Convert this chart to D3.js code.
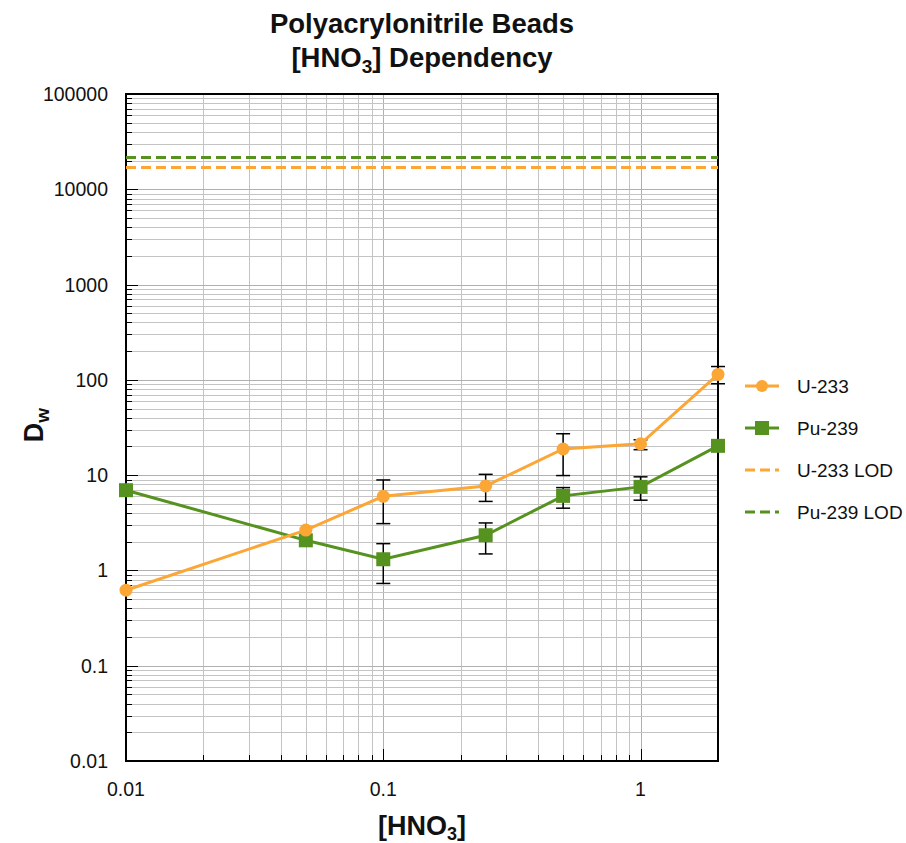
<!DOCTYPE html>
<html>
<head>
<meta charset="utf-8">
<script src="https://cdn.jsdelivr.net/npm/d3@7"></script>
<style>
  html, body { margin: 0; padding: 0; background: #fff; }
  svg { display: block; font-family: "Liberation Sans", Arial, Helvetica, sans-serif; }
</style>
</head>
<body>
<svg id="chart" width="906" height="843"></svg>
<script>
// HNO3 concentrations (M)
const hno3 = [0.01, 0.05, 0.1, 0.25, 0.5, 1, 2];

// Weight distribution ratios with error ranges
const u233 = [0.62, 2.65, 6.0, 7.7, 18.8, 21.3, 114];
const u233Low = [null, null, 3.1, 5.3, 9.9, 18.5, 91];
const u233High = [null, null, 8.9, 10.2, 27.2, 23.5, 138];

const pu239 = [6.95, 2.07, 1.31, 2.34, 6.06, 7.53, 20.3];
const pu239Low = [null, null, 0.73, 1.49, 4.5, 5.46, null];
const pu239High = [null, null, 1.91, 3.15, 7.4, 9.6, null];

// Limits of detection
const u233LOD = 16900;
const pu239LOD = 21600;

const xTickLabels = ["0.01", "0.1", "1"];
const yTickLabels = ["0.01", "0.1", "1", "10", "100", "1000", "10000", "100000"];

const ORANGE = "#fca636";
const GREEN = "#56921f";
const INK = "#111";

const svg = d3.select("#chart");
const plotL = 126, plotR = 718, plotT = 94, plotB = 761;

const x = d3.scaleLog().domain([0.01, 2]).range([plotL, plotR]);
const y = d3.scaleLog().domain([0.01, 100000]).range([plotB, plotT]);

// Minor/major tick values
const xTicks = [];
for (let e = -2; e <= 0; e++) {
  for (let k = 1; k <= 9; k++) {
    const v = +(k * Math.pow(10, e)).toPrecision(3);
    if (v <= 2) xTicks.push(v);
  }
}
const yTicks = [];
for (let e = -2; e < 5; e++) {
  for (let k = 1; k <= 9; k++) yTicks.push(+(k * Math.pow(10, e)).toPrecision(3));
}
yTicks.push(100000);
const isMajor = v => Math.abs(Math.log10(v) - Math.round(Math.log10(v))) < 1e-9;

// Grid
const grid = svg.append("g").attr("shape-rendering", "crispEdges");
grid.selectAll("line.gx").data(xTicks.filter(v => v > 0.01 && v < 2)).join("line")
  .attr("x1", d => Math.round(x(d)) + 0.5).attr("x2", d => Math.round(x(d)) + 0.5)
  .attr("y1", plotT).attr("y2", plotB)
  .attr("stroke", d => isMajor(d) ? "#b0b0b0" : "#c4c4c4").attr("stroke-width", 1);
grid.selectAll("line.gy").data(yTicks.filter(v => v > 0.01 && v < 100000)).join("line")
  .attr("y1", d => Math.round(y(d)) + 0.5).attr("y2", d => Math.round(y(d)) + 0.5)
  .attr("x1", plotL).attr("x2", plotR)
  .attr("stroke", d => isMajor(d) ? "#b0b0b0" : "#c4c4c4").attr("stroke-width", 1);

// Inward ticks on left and bottom
const ticks = svg.append("g").attr("stroke", "#000").attr("shape-rendering", "crispEdges");
ticks.selectAll("line.ty").data(yTicks).join("line")
  .attr("y1", d => Math.round(y(d)) + 0.5).attr("y2", d => Math.round(y(d)) + 0.5)
  .attr("x1", plotL).attr("x2", d => plotL + (isMajor(d) ? 12 : 6));
ticks.selectAll("line.tx").data(xTicks).join("line")
  .attr("x1", d => Math.round(x(d)) + 0.5).attr("x2", d => Math.round(x(d)) + 0.5)
  .attr("y1", plotB).attr("y2", d => plotB - (isMajor(d) ? 12 : 6));

// Frame
svg.append("rect").attr("x", plotL).attr("y", plotT)
  .attr("width", plotR - plotL).attr("height", plotB - plotT)
  .attr("fill", "none").attr("stroke", "#000").attr("stroke-width", 2);

// Tick labels
svg.append("g").selectAll("text").data(yTickLabels).join("text")
  .attr("x", 108).attr("y", d => y(+d) + 7)
  .attr("text-anchor", "end").attr("font-size", 19.5).attr("fill", INK)
  .text(d => d);
svg.append("g").selectAll("text").data(xTickLabels).join("text")
  .attr("x", d => x(+d)).attr("y", 796)
  .attr("text-anchor", "middle").attr("font-size", 19.5).attr("fill", INK)
  .text(d => d);

// LOD lines
svg.append("line").attr("x1", plotL).attr("x2", plotR)
  .attr("y1", y(pu239LOD)).attr("y2", y(pu239LOD))
  .attr("stroke", GREEN).attr("stroke-width", 3).attr("stroke-dasharray", "10,5");
svg.append("line").attr("x1", plotL).attr("x2", plotR)
  .attr("y1", y(u233LOD)).attr("y2", y(u233LOD))
  .attr("stroke", ORANGE).attr("stroke-width", 3).attr("stroke-dasharray", "10,5");

const line = d3.line().x(d => x(d[0])).y(d => y(d[1]));

function errorBars(lo, hi) {
  const g = svg.append("g").attr("stroke", "#000").attr("stroke-width", 1.5);
  hno3.forEach((c, i) => {
    if (lo[i] == null) return;
    const cx = x(c);
    g.append("line").attr("x1", cx).attr("x2", cx).attr("y1", y(lo[i])).attr("y2", y(hi[i]));
    [lo[i], hi[i]].forEach(v => {
      g.append("line").attr("x1", cx - 7).attr("x2", cx + 7).attr("y1", y(v)).attr("y2", y(v));
    });
  });
}

errorBars(u233Low, u233High);
errorBars(pu239Low, pu239High);

// Pu-239 series
const puPts = hno3.map((c, i) => [c, pu239[i]]);
svg.append("path").datum(puPts)
  .attr("d", line).attr("fill", "none").attr("stroke", GREEN).attr("stroke-width", 3);
svg.append("g").selectAll("rect").data(puPts).join("rect")
  .attr("x", d => x(d[0]) - 7).attr("y", d => y(d[1]) - 7)
  .attr("width", 14).attr("height", 14).attr("fill", GREEN);

// U-233 series
const uPts = hno3.map((c, i) => [c, u233[i]]);
svg.append("path").datum(uPts)
  .attr("d", line).attr("fill", "none").attr("stroke", ORANGE).attr("stroke-width", 3);
svg.append("g").selectAll("circle").data(uPts).join("circle")
  .attr("cx", d => x(d[0])).attr("cy", d => y(d[1])).attr("r", 6.5).attr("fill", ORANGE);

// Title
svg.append("text").attr("x", 422).attr("y", 33).attr("text-anchor", "middle")
  .attr("font-size", 27.5).attr("font-weight", "bold").attr("fill", INK)
  .text("Polyacrylonitrile Beads");
const t2 = svg.append("text").attr("x", 422).attr("y", 67).attr("text-anchor", "middle")
  .attr("font-size", 27.5).attr("font-weight", "bold").attr("fill", INK);
t2.append("tspan").text("[HNO");
t2.append("tspan").attr("font-size", 19).attr("dy", 6).text("3");
t2.append("tspan").attr("dy", -6).text("] Dependency");

// Axis titles
const xl = svg.append("text").attr("x", 422).attr("y", 835).attr("text-anchor", "middle")
  .attr("font-size", 27).attr("font-weight", "bold").attr("fill", INK);
xl.append("tspan").text("[HNO");
xl.append("tspan").attr("font-size", 18).attr("dy", 5).text("3");
xl.append("tspan").attr("dy", -5).text("]");

const yl = svg.append("text").attr("transform", "translate(43,425) rotate(-90)")
  .attr("text-anchor", "middle").attr("font-size", 27).attr("font-weight", "bold").attr("fill", INK);
yl.append("tspan").text("D");
yl.append("tspan").attr("font-size", 19).attr("dy", 6).text("w");

// Legend
const legend = [
  { name: "U-233", color: ORANGE, marker: "circle", dash: null },
  { name: "Pu-239", color: GREEN, marker: "square", dash: null },
  { name: "U-233 LOD", color: ORANGE, marker: null, dash: "10,5" },
  { name: "Pu-239 LOD", color: GREEN, marker: null, dash: "10,5" }
];
const lg = svg.append("g");
legend.forEach((d, i) => {
  const ly = 386 + i * 42;
  lg.append("line").attr("x1", 745).attr("x2", 779).attr("y1", ly).attr("y2", ly)
    .attr("stroke", d.color).attr("stroke-width", 3).attr("stroke-dasharray", d.dash);
  if (d.marker === "circle") lg.append("circle").attr("cx", 762).attr("cy", ly).attr("r", 6).attr("fill", d.color);
  if (d.marker === "square") lg.append("rect").attr("x", 755).attr("y", ly - 7).attr("width", 14).attr("height", 14).attr("fill", d.color);
  lg.append("text").attr("x", 797).attr("y", ly + 7).attr("font-size", 19).attr("fill", INK).text(d.name);
});
</script>
</body>
</html>
